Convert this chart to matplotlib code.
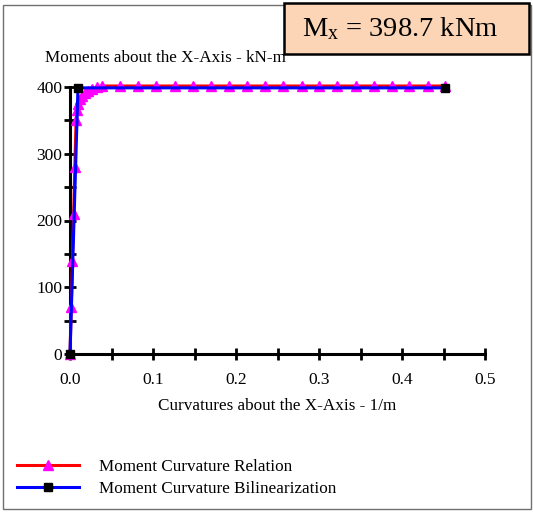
import matplotlib
matplotlib.use("Agg")
import matplotlib.pyplot as plt
from matplotlib.patches import Rectangle
from matplotlib.ticker import MultipleLocator, FixedLocator, FixedFormatter

plt.rcParams['font.family'] = ['Liberation Serif', 'DejaVu Serif']
plt.rcParams['mathtext.fontset'] = 'custom'
plt.rcParams['mathtext.rm'] = 'Liberation Serif'
plt.rcParams['mathtext.it'] = 'Liberation Serif:italic'

# Moment-curvature relation (curvature 1/m, moment kN-m)
phi_rel = [0.0, 0.0015, 0.0029, 0.0044, 0.0058, 0.0073, 0.0085, 0.0100, 0.0120,
           0.0145, 0.0175, 0.0215, 0.0270, 0.0330, 0.039, 0.060, 0.082, 0.104,
           0.126, 0.148, 0.170, 0.191, 0.213, 0.235, 0.257, 0.279, 0.300, 0.322,
           0.344, 0.366, 0.388, 0.409, 0.431, 0.452]
m_rel = [0.0, 70.0, 140.0, 210.0, 280.0, 350.0, 365.0, 375.0, 382.0,
         387.0, 391.0, 394.0, 397.0, 399.5, 401.5, 401.5, 401.5, 401.5,
         401.5, 401.5, 401.5, 401.5, 401.5, 401.5, 401.5, 401.5, 401.5, 401.5,
         401.5, 401.5, 401.5, 401.5, 401.5, 401.5]

# Bilinear idealisation
phi_bil = [0.0, 0.0096, 0.452]
m_bil = [0.0, 398.7, 398.7]

x_ticks = [0.0, 0.1, 0.2, 0.3, 0.4, 0.5]
x_tick_labels = ["0.0", "0.1", "0.2", "0.3", "0.4", "0.5"]
y_ticks = [0, 100, 200, 300, 400]
y_tick_labels = ["0", "100", "200", "300", "400"]

mx_text = r"M$_{\mathrm{x}}$ = 398.7 kNm"

W, H = 533, 512
fig = plt.figure(figsize=(W / 100, H / 100), dpi=100)

# outer frame
fig.patches.append(Rectangle((3 / W, 1 - 509 / H), 528 / W, 504 / H,
                             transform=fig.transFigure, fill=False,
                             edgecolor='#707070', linewidth=1.0, zorder=0))

ax = fig.add_axes([70 / W, 1 - 354 / H, 415 / W, 267 / H])
ax.set_xlim(0, 0.5)
ax.set_ylim(0, 400)
for s in ('top', 'right'):
    ax.spines[s].set_visible(False)
for s in ('left', 'bottom'):
    ax.spines[s].set_linewidth(2.2)
    ax.spines[s].set_color('black')

ax.xaxis.set_major_locator(FixedLocator(x_ticks))
ax.xaxis.set_major_formatter(FixedFormatter(x_tick_labels))
ax.xaxis.set_minor_locator(MultipleLocator(0.05))
ax.yaxis.set_major_locator(FixedLocator(y_ticks))
ax.yaxis.set_major_formatter(FixedFormatter(y_tick_labels))
ax.yaxis.set_minor_locator(MultipleLocator(50))
ax.tick_params(which='both', direction='inout', length=8, width=2, color='black',
               labelsize=12.5, pad=1.5)
ax.tick_params(axis='x', pad=9)

ax.plot(phi_rel, m_rel, color='#ff0000', linewidth=2.2, marker='^',
        markersize=6.5, markerfacecolor='#ff00ff', markeredgecolor='#ff00ff',
        clip_on=False, zorder=3, label='Moment Curvature Relation')
ax.plot(phi_bil, m_bil, color='#0000ff', linewidth=2.2, marker='s',
        markersize=6, markerfacecolor='black', markeredgecolor='black',
        clip_on=False, zorder=4, label='Moment Curvature Bilinearization')

fig.text(45 / W, 1 - 58 / H, "Moments about the X-Axis - kN-m", fontsize=12.3,
         ha='left', va='center')
fig.text(277 / W, 1 - 406 / H, "Curvatures about the X-Axis - 1/m", fontsize=12.3,
         ha='center', va='center')

leg = ax.legend(loc='upper left', bbox_to_anchor=(17 / W, 1 - 459 / H),
                bbox_transform=fig.transFigure, frameon=False, fontsize=12.3,
                handlelength=3.6, handletextpad=1.2, labelspacing=0.35,
                borderaxespad=0, borderpad=0)

# value box
fig.patches.append(Rectangle((284 / W, 1 - 54 / H), 245 / W, 51 / H,
                             transform=fig.transFigure, facecolor='#fbd5b5',
                             edgecolor='black', linewidth=1.8, zorder=5))
fig.text(400 / W, 1 - 29 / H, mx_text, fontsize=20.5, ha='center', va='center',
         zorder=6)

fig.savefig("out.png", dpi=100)
